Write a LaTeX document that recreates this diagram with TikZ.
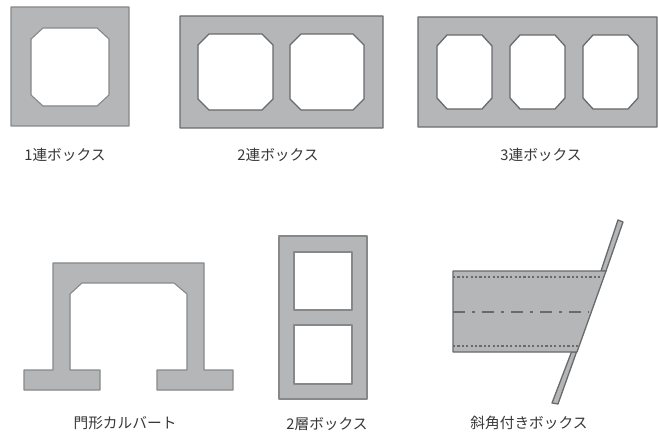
\documentclass[tikz,border=0pt]{standalone}
\usepackage{fontspec}
\setmainfont{Noto Sans CJK JP}
\definecolor{concrete}{RGB}{181,182,184}
\definecolor{edgegray}{RGB}{105,106,108}
\definecolor{edgelight}{RGB}{135,136,138}
\definecolor{labelgray}{RGB}{55,55,55}
\newcommand{\octohole}[6]{(#1+#5,#3) -- (#2-#5,#3) -- (#2,#3+#6) -- (#2,#4-#6) -- (#2-#5,#4) -- (#1+#5,#4) -- (#1,#4-#6) -- (#1,#3+#6) -- cycle}
\tikzset{
  x=1pt,y=-1pt,
  body/.style={fill=concrete,draw=edgegray,line width=1.3pt,even odd rule,line join=round},
  bodylight/.style={body,draw=edgelight,line width=1.1pt},
  hidden/.style={draw=edgegray,line width=1.3pt,dash pattern=on 2.2pt off 2.2pt},
  axis/.style={draw=edgegray,line width=1.8pt,dash pattern=on 12pt off 7pt on 3pt off 7pt},
  caption/.style={text=labelgray,font=\fontsize{14.7}{16}\selectfont,inner sep=0pt,anchor=center}
}
\begin{document}
\begin{tikzpicture}
\useasboundingbox (0,0) rectangle (658,435);
% 1-cell box
\path[bodylight] (11,7) rectangle (129,126) \octohole{31}{109}{28}{106}{12}{11};
% 2-cell box
\path[body] (180,16) rectangle (383,128)
  \octohole{198}{273}{34}{110}{11}{11}
  \octohole{290}{364}{34}{110}{11}{11};
% 3-cell box
\path[body] (418,17) rectangle (657,127)
  \octohole{437}{492}{35}{109}{10}{11}
  \octohole{510}{565}{35}{109}{10}{11}
  \octohole{583}{638}{35}{109}{10}{11};
% portal culvert
\path[bodylight] (53,263) -- (204,263) -- (204,370) -- (233,370) -- (233,390) -- (157,390) -- (157,370)
  -- (187,370) -- (187,294) -- (174,283) -- (82,283) -- (70,294) -- (70,370) -- (100,370) -- (100,390)
  -- (24,390) -- (24,370) -- (53,370) -- cycle;
% 2-storey box
\path[bodylight] (279,236) rectangle (367,399)
  (294,252) rectangle (352,310)
  (294,325) rectangle (352,384);
% skew box
\path[body] (618,220) -- (623,222) -- (606,271) -- (601,271) -- cycle;
\path[body] (571.5,352) -- (576.5,352) -- (558,404) -- (552,403) -- cycle;
\path[body] (453,271) -- (606,271) -- (577,352) -- (453,352) -- cycle;
\coordinate (hiddenTopL) at (453,277);
\coordinate (hiddenTopR) at (604,277);
\coordinate (hiddenBotL) at (453,346);
\coordinate (hiddenBotR) at (579,346);
\coordinate (axisL) at (453,312);
\coordinate (axisR) at (589,312);
\draw[hidden] (hiddenTopL) -- (hiddenTopR);
\draw[hidden] (hiddenBotL) -- (hiddenBotR);
\draw[axis] (axisL) -- (axisR);
% captions
\node[caption] (c1) at (65,155) {1連ボックス};
\node[caption] (c2) at (278,155) {2連ボックス};
\node[caption] (c3) at (541,155) {3連ボックス};
\node[caption] (c4) at (125,423) {門形カルバート};
\node[caption] (c5) at (327,424.5) {2層ボックス};
\node[caption] (c6) at (529,423) {斜角付きボックス};
\end{tikzpicture}
\end{document}
